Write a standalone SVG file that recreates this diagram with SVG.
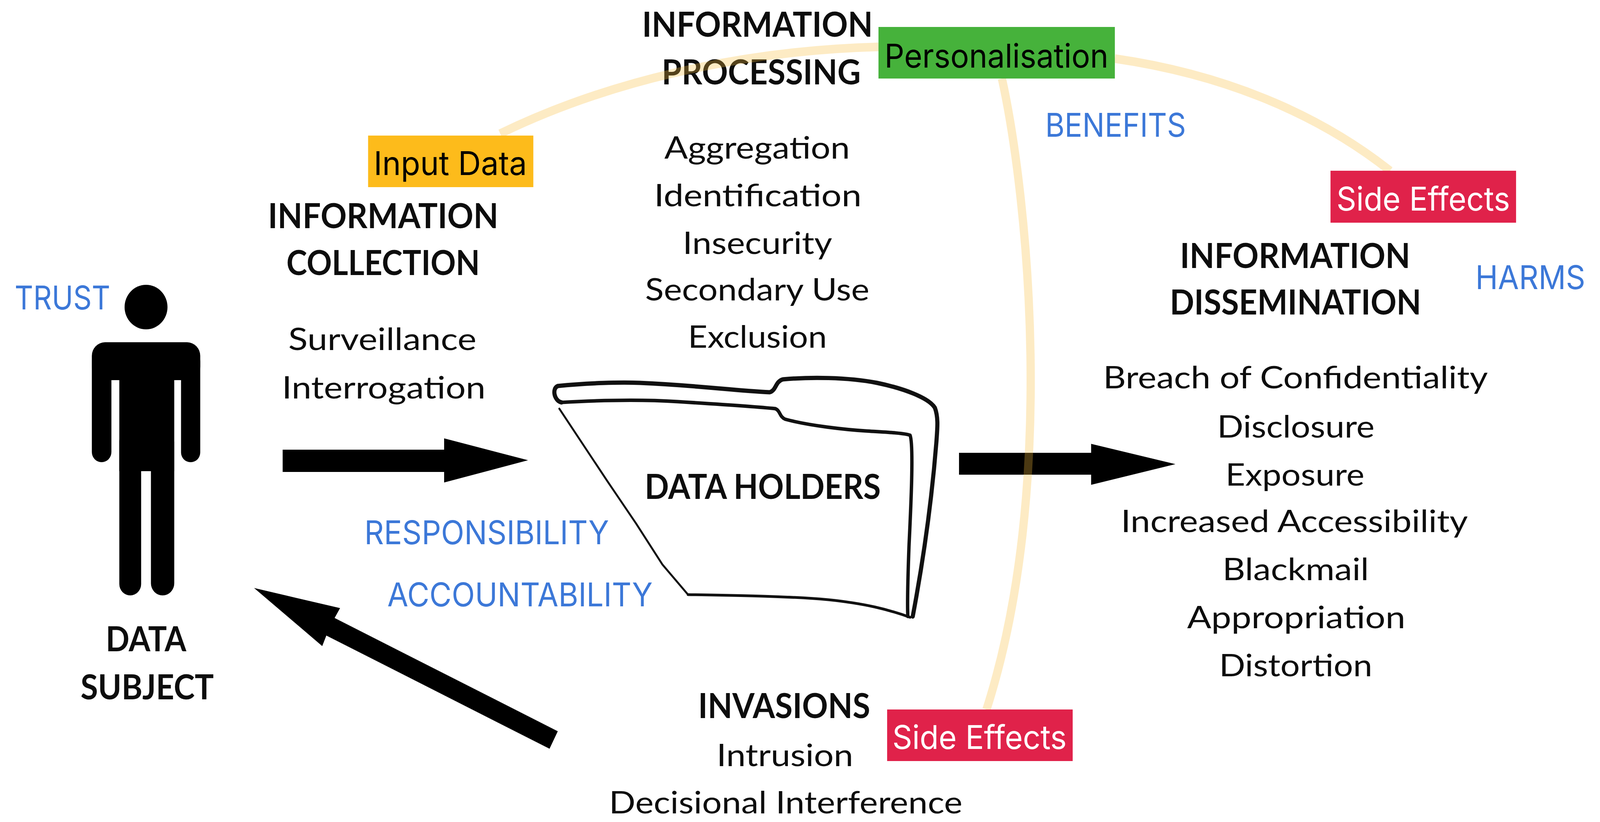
<svg xmlns="http://www.w3.org/2000/svg" width="4251" height="2104" viewBox="0 0 4251 2104" preserveAspectRatio="none" style="width:100vw;height:100vh;display:block">
<style>
.b{font-family:Lato,"Liberation Sans",sans-serif;font-weight:700;font-size:88px;fill:#0d0d0d}
.r{font-family:Lato,"Liberation Sans",sans-serif;font-weight:400;font-size:80px;fill:#0d0d0d}
.blue{font-family:Inter,Roboto,"Liberation Sans",sans-serif;font-size:84px;fill:#3c78d8}
.lbl{font-family:Inter,Roboto,"Liberation Sans",sans-serif;font-size:84px}
.arrow{fill:#000}
.arc{fill:none;stroke:#f9bc3c;stroke-opacity:0.3;stroke-width:22}
.fold{fill:none;stroke:#111;stroke-linecap:round;stroke-linejoin:round}
</style>
<rect width="4251" height="2104" fill="#fff"/>

<g id="data-subject">
<circle cx="388" cy="786" r="57" fill="#000"/>
<rect x="244" y="876" width="288" height="97" rx="35" fill="#000"/>
<rect x="244" y="900" width="52" height="283" rx="26" fill="#000"/>
<rect x="481" y="900" width="51" height="283" rx="25" fill="#000"/>
<rect x="317" y="900" width="146" height="306" fill="#000"/>
<rect x="317" y="1100" width="58" height="424" rx="29" fill="#000"/>
<rect x="401" y="1100" width="62" height="424" rx="31" fill="#000"/>
<text class="b" x="281" y="1667" textLength="214" lengthAdjust="spacingAndGlyphs">DATA</text>
<text class="b" x="214" y="1790" textLength="354" lengthAdjust="spacingAndGlyphs">SUBJECT</text>
</g>

<g id="trust">
<text class="blue" x="39" y="792" textLength="254" lengthAdjust="spacingAndGlyphs">TRUST</text>
</g>

<g id="information-collection">
<text class="b" x="712" y="584" textLength="612" lengthAdjust="spacingAndGlyphs">INFORMATION</text>
<text class="b" x="761" y="704" textLength="514" lengthAdjust="spacingAndGlyphs">COLLECTION</text>
<text class="r" x="766" y="896" textLength="500" lengthAdjust="spacingAndGlyphs">Surveillance</text>
<text class="r" x="749" y="1020" textLength="541" lengthAdjust="spacingAndGlyphs">Interrogation</text>
</g>

<g id="information-processing">
<text class="b" x="1706" y="94" textLength="613" lengthAdjust="spacingAndGlyphs">INFORMATION</text>
<text class="b" x="1758" y="216" textLength="529" lengthAdjust="spacingAndGlyphs">PROCESSING</text>
<text class="r" x="1765" y="406" textLength="493" lengthAdjust="spacingAndGlyphs">Aggregation</text>
<text class="r" x="1738" y="528" textLength="551" lengthAdjust="spacingAndGlyphs">Identification</text>
<text class="r" x="1814" y="650" textLength="397" lengthAdjust="spacingAndGlyphs">Insecurity</text>
<text class="r" x="1714" y="769" textLength="596" lengthAdjust="spacingAndGlyphs">Secondary Use</text>
<text class="r" x="1828" y="890" textLength="369" lengthAdjust="spacingAndGlyphs">Exclusion</text>
</g>

<g id="data-holders">
<path class="fold" stroke-width="11" d="M1492,1030 C1472,1026 1466,994 1482,988 C1560,980 1650,978 1700,980 C1850,986 1950,1000 2045,1004 C2062,1000 2060,976 2080,971 C2150,965 2250,965 2330,980 C2400,994 2468,1018 2484,1044 C2494,1070 2490,1100 2488,1130 C2474,1300 2450,1450 2425,1578"/>
<path class="fold" stroke-width="9" d="M1492,1030 C1600,1024 1700,1022 1800,1028 C1900,1034 2000,1040 2060,1046 C2074,1052 2070,1066 2086,1073 C2150,1090 2250,1100 2300,1103 C2350,1106 2400,1108 2418,1114 C2428,1140 2420,1300 2415,1400 C2412,1480 2410,1540 2412,1578"/>
<path class="fold" stroke-width="5" d="M1486,1046 L1614,1232 L1690,1340 L1760,1445 L1828,1522"/>
<path class="fold" stroke-width="7" d="M1828,1522 C1950,1524 2100,1526 2200,1535 C2300,1545 2360,1560 2418,1580"/>
<text class="b" x="1713" y="1277" textLength="627" lengthAdjust="spacingAndGlyphs">DATA HOLDERS</text>
</g>

<g id="responsibility">
<text class="blue" x="968" y="1393" textLength="650" lengthAdjust="spacingAndGlyphs">RESPONSIBILITY</text>
<text class="blue" x="1029" y="1552" textLength="705" lengthAdjust="spacingAndGlyphs">ACCOUNTABILITY</text>
</g>

<g id="invasions">
<text class="b" x="1855" y="1838" textLength="457" lengthAdjust="spacingAndGlyphs">INVASIONS</text>
<text class="r" x="1904" y="1961" textLength="363" lengthAdjust="spacingAndGlyphs">Intrusion</text>
<text class="r" x="1618" y="2082" textLength="939" lengthAdjust="spacingAndGlyphs">Decisional Interference</text>
</g>

<g id="information-dissemination">
<text class="b" x="3135" y="686" textLength="612" lengthAdjust="spacingAndGlyphs">INFORMATION</text>
<text class="b" x="3108" y="805" textLength="668" lengthAdjust="spacingAndGlyphs">DISSEMINATION</text>
<text class="r" x="2931" y="994" textLength="1022" lengthAdjust="spacingAndGlyphs">Breach of Confidentiality</text>
<text class="r" x="3234" y="1120" textLength="418" lengthAdjust="spacingAndGlyphs">Disclosure</text>
<text class="r" x="3256" y="1243" textLength="369" lengthAdjust="spacingAndGlyphs">Exposure</text>
<text class="r" x="2978" y="1362" textLength="922" lengthAdjust="spacingAndGlyphs">Increased Accessibility</text>
<text class="r" x="3248" y="1485" textLength="389" lengthAdjust="spacingAndGlyphs">Blackmail</text>
<text class="r" x="3154" y="1608" textLength="580" lengthAdjust="spacingAndGlyphs">Appropriation</text>
<text class="r" x="3239" y="1731" textLength="407" lengthAdjust="spacingAndGlyphs">Distortion</text>
</g>

<g id="benefits">
<text class="blue" x="2777" y="350" textLength="374" lengthAdjust="spacingAndGlyphs">BENEFITS</text>
</g>
<g id="harms">
<text class="blue" x="3920" y="740" textLength="292" lengthAdjust="spacingAndGlyphs">HARMS</text>
</g>

<g id="connectors">
<path class="arrow" d="M751,1151 H1180 V1122 L1403,1178 L1180,1235 V1208 H751 Z"/>
<path class="arrow" d="M2548,1159 H2899 V1136 L3123,1188 L2899,1241 V1215 H2548 Z"/>
<path class="arrow" transform="translate(675,1505) rotate(26.05)" d="M0,0 L228,-54 L226,-25 L886,-25 L886,25 L226,25 L228,54 Z"/>
<path class="arc" d="M1329,342 C1600,215 1950,130 2334,120"/>
<path class="arc" d="M2962,150 C3250,190 3500,290 3693,437"/>
<path class="arc" d="M2662,201 C2730,500 2810,1250 2621,1816"/>
</g>

<g id="input-data">
<rect x="978" y="347" width="439" height="132" fill="#fdbb1b"/>
<text class="lbl" x="993" y="448" fill="#000" textLength="407" lengthAdjust="spacingAndGlyphs">Input Data</text>
</g>
<g id="personalisation">
<rect x="2334" y="69" width="628" height="132" fill="#46b23b"/>
<text class="lbl" x="2350" y="173" fill="#000" textLength="595" lengthAdjust="spacingAndGlyphs">Personalisation</text>
</g>
<g id="side-effects-top">
<rect x="3535" y="437" width="493" height="133" fill="#e0224a"/>
<text class="lbl" x="3551" y="539" fill="#fff" textLength="461" lengthAdjust="spacingAndGlyphs">Side Effects</text>
</g>
<g id="side-effects-bottom">
<rect x="2357" y="1816" width="493" height="132" fill="#e0224a"/>
<text class="lbl" x="2371" y="1917" fill="#fff" textLength="463" lengthAdjust="spacingAndGlyphs">Side Effects</text>
</g>
</svg>
